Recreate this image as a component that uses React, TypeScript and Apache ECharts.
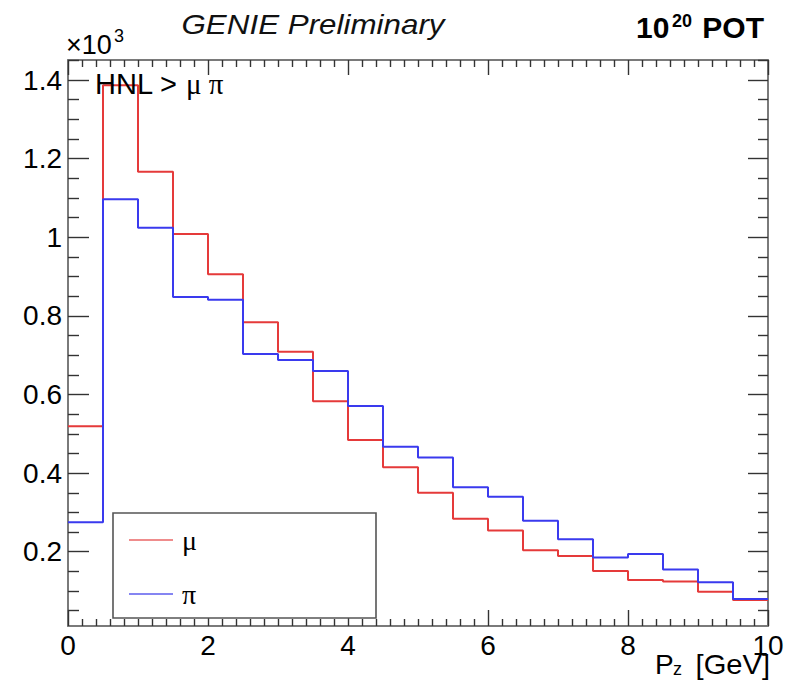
import React, { useEffect, useRef } from "react";
import * as echarts from "echarts";

// Histogram: P_z [GeV], 20 bins of 0.5 GeV, counts in units of 10^3
const BIN_WIDTH = 0.5;
const muCounts = [0.519, 1.387, 1.167, 1.008, 0.906, 0.784, 0.709, 0.583, 0.484, 0.415, 0.35, 0.284, 0.254, 0.204, 0.189, 0.151, 0.128, 0.124, 0.098, 0.077];
const piCounts = [0.275, 1.097, 1.024, 0.848, 0.841, 0.703, 0.688, 0.66, 0.571, 0.467, 0.44, 0.364, 0.34, 0.279, 0.232, 0.185, 0.194, 0.155, 0.122, 0.08];
const seriesNames = ["μ", "π"];

const xMin = 0;
const xMax = 10;
const xInterval = 2;
const yMin = 0.011;
const yMax = 1.451;
const yMajorTicks = [0.2, 0.4, 0.6, 0.8, 1, 1.2, 1.4];
const yMinorTicks = [0.05, 0.1, 0.15, 0.25, 0.3, 0.35, 0.45, 0.5, 0.55, 0.65, 0.7, 0.75, 0.85, 0.9, 0.95, 1.05, 1.1, 1.15, 1.25, 1.3, 1.35, 1.45];

const SANS = '"Liberation Sans", Arial, Helvetica, sans-serif';
const SERIF = '"Liberation Serif", "Times New Roman", serif';

const toSteps = (vals: number[]) => [
  ...vals.map((v, i) => [i * BIN_WIDTH, v]),
  [vals.length * BIN_WIDTH, vals[vals.length - 1]],
];

const FRAME = { color: "#7a7a7a", width: 2 };
const TICK = { color: "#333", width: 1.4 };

export default function App() {
  const ref = useRef<HTMLDivElement>(null);
  useEffect(() => {
    if (!ref.current) return;
    const chart = echarts.init(ref.current, null, { renderer: "svg" });
    const xBase = (pos: "bottom" | "top", major: number, minor: number, labels: boolean) => ({
      type: "value",
      position: pos,
      min: xMin,
      max: xMax,
      interval: xInterval,
      axisLine: { show: true, lineStyle: FRAME },
      axisTick: { show: true, inside: true, length: major, lineStyle: TICK },
      minorTick: { show: true, splitNumber: 10, length: minor, lineStyle: TICK },
      splitLine: { show: false },
      minorSplitLine: { show: false },
      axisLabel: {
        show: labels,
        fontFamily: SANS,
        fontSize: 28,
        color: "#000",
        margin: 5,
      },
    });
    const yBase = (pos: "left" | "right", ticks: number[], len: number, line: boolean, labels: boolean) => ({
      type: "value",
      position: pos,
      min: yMin,
      max: yMax,
      axisLine: { show: line, lineStyle: FRAME },
      axisTick: { show: true, inside: true, length: len, lineStyle: TICK, customValues: ticks },
      splitLine: { show: false },
      axisLabel: {
        show: labels,
        customValues: yMajorTicks,
        fontFamily: SANS,
        fontSize: 28,
        color: "#000",
        margin: 6,
        formatter: (v: number) => String(v),
      },
    });
    chart.setOption({
      animation: false,
      backgroundColor: "#fff",
      grid: { left: 68, right: 22, top: 60, bottom: 54 },
      xAxis: [xBase("bottom", 16, 7, true), xBase("top", 15, 7, false)],
      yAxis: [
        yBase("left", yMajorTicks, 21, true, true),
        yBase("left", yMinorTicks, 11, false, false),
        yBase("right", yMajorTicks, 20, true, false),
        yBase("right", yMinorTicks, 10, false, false),
      ],
      legend: {
        orient: "vertical",
        left: 124,
        top: 521,
        z: 60,
        icon: "rect",
        itemWidth: 44,
        itemHeight: 2,
        itemGap: 26,
        textStyle: { fontFamily: SERIF, fontSize: 28, lineHeight: 24, color: "#000", padding: [0, 0, 0, 4] },
        data: [
          { name: seriesNames[0], itemStyle: { color: "#ef8c8c" } },
          { name: seriesNames[1], itemStyle: { color: "#8585f2" } },
        ],
      },
      series: [
        {
          name: seriesNames[0],
          type: "line",
          step: "end",
          showSymbol: false,
          color: "rgb(229,58,58)",
          lineStyle: { width: 2, color: "rgb(229,58,58)" },
          data: toSteps(muCounts),
        },
        {
          name: seriesNames[1],
          type: "line",
          step: "end",
          showSymbol: false,
          color: "rgb(58,58,238)",
          lineStyle: { width: 2, color: "rgb(58,58,238)" },
          data: toSteps(piCounts),
        },
      ],
      graphic: [
        {
          type: "rect",
          z: 50,
          shape: { x: 113, y: 513, width: 263, height: 105 },
          style: { fill: "#fff", stroke: "#555", lineWidth: 1.6 },
        },
        {
          type: "text",
          z: 100,
          x: 313,
          y: 24,
          scaleX: 1.12,
          style: { text: "GENIE Preliminary", align: "center", verticalAlign: "middle", font: `italic 28px ${SANS}`, fill: "#111" },
        },
        {
          type: "text",
          z: 100,
          x: 636,
          y: 27,
          style: { text: "10", align: "left", verticalAlign: "middle", font: `bold 30px ${SANS}`, fill: "#000" },
        },
        {
          type: "text",
          z: 100,
          x: 672,
          y: 21,
          style: { text: "20", align: "left", verticalAlign: "middle", font: `bold 18px ${SANS}`, fill: "#000" },
        },
        {
          type: "text",
          z: 100,
          x: 764,
          y: 27,
          style: { text: "POT", align: "right", verticalAlign: "middle", font: `bold 30px ${SANS}`, fill: "#000" },
        },
        {
          type: "text",
          z: 100,
          x: 66,
          y: 45,
          style: { text: "×10", align: "left", verticalAlign: "middle", font: `27px ${SANS}`, fill: "#000" },
        },
        {
          type: "text",
          z: 100,
          x: 114,
          y: 36,
          style: { text: "3", align: "left", verticalAlign: "middle", font: `18px ${SANS}`, fill: "#000" },
        },
        {
          type: "text",
          z: 100,
          x: 95,
          y: 84,
          style: {
            text: "{s|HNL > }{g|μ π}",
            align: "left",
            verticalAlign: "middle",
            fill: "#000",
            rich: {
              s: { font: `29px ${SANS}`, fill: "#000" },
              g: { font: `29px ${SERIF}`, fill: "#000" },
            },
          },
        },
        {
          type: "text",
          z: 100,
          x: 655,
          y: 664,
          style: { text: "P", align: "left", verticalAlign: "middle", font: `28px ${SANS}`, fill: "#000" },
        },
        {
          type: "text",
          z: 100,
          x: 673,
          y: 669,
          style: { text: "z", align: "left", verticalAlign: "middle", font: `18px ${SANS}`, fill: "#000" },
        },
        {
          type: "text",
          z: 100,
          x: 770,
          y: 664,
          scaleX: 1.04,
          style: { text: "[GeV]", align: "right", verticalAlign: "middle", font: `28px ${SANS}`, fill: "#000" },
        },
      ],
    });
    return () => chart.dispose();
  }, []);
  return <div ref={ref} style={{ position: "absolute", left: 0, top: 0, width: 790, height: 680 }} />;
}
